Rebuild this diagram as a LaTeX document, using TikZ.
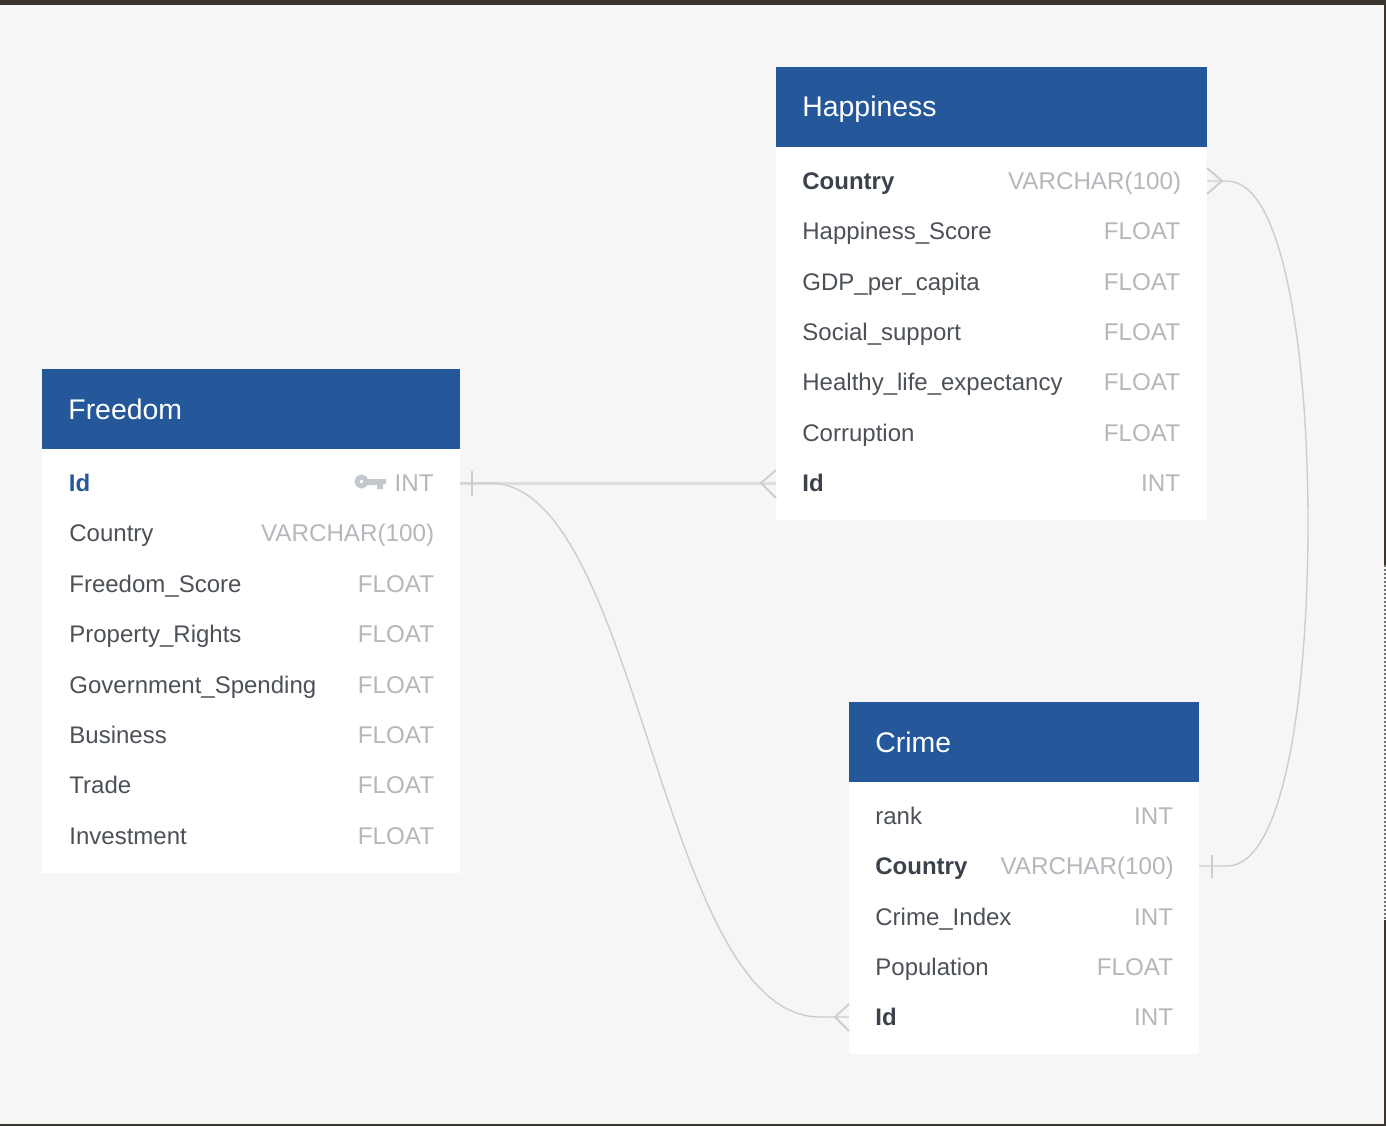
\documentclass[tikz,border=0pt]{standalone}
\usepackage{fontspec}
\setmainfont{Liberation Sans}
\definecolor{headblue}{HTML}{24589A}
\definecolor{pagegray}{HTML}{F6F6F6}
\definecolor{framedark}{HTML}{3A362E}
\definecolor{fieldtext}{HTML}{4C5158}
\definecolor{boldtext}{HTML}{3B424C}
\definecolor{typetext}{HTML}{B4B7BB}
\definecolor{keygray}{HTML}{C3C7CE}
\definecolor{linkgray}{HTML}{CDCDCD}
\definecolor{linklight}{HTML}{DEDEDE}
\tikzset{
  headbox/.style={fill=headblue,inner sep=0pt,minimum height=40pt,anchor=north west},
  bodybox/.style={fill=white,inner sep=0pt,anchor=north west},
  headtext/.style={text=white,anchor=base west,inner sep=0pt,font=\fontsize{14.2}{16}\selectfont},
  fieldname/.style={text=fieldtext,anchor=base west,inner sep=0pt,font=\fontsize{12}{14}\selectfont},
  keyname/.style={fieldname,text=boldtext,font=\fontsize{12}{14}\selectfont\bfseries},
  fieldtype/.style={text=typetext,anchor=base east,inner sep=0pt,font=\fontsize{12.1}{14}\selectfont},
  relation/.style={draw=linkgray,line width=0.7pt},
  foot/.style={draw=linkgray,line width=0.9pt}
}
\begin{document}
\begin{tikzpicture}[x=0.5pt,y=-0.5pt]
\useasboundingbox (0,0) rectangle (1386,1126);
\fill[pagegray] (0,0) rectangle (1386,1126);
% window frame
\fill[framedark] (0,0) rectangle (1386,5);
\fill[framedark] (0,1124) rectangle (1386,1126);
\fill[framedark] (1384,0) rectangle (1386,565);
\draw[framedark!70,line width=1pt,dash pattern=on 1pt off 1pt] (1385,565) -- (1385,920);
\fill[framedark] (1384,920) rectangle (1386,1126);
% Freedom
\node[bodybox,minimum width=209pt,minimum height=212pt] (freedomBody) at (42,449) {};
\node[headbox,minimum width=209pt] (freedomHead) at (42,369) {};
\node[headtext] (freedomTitle) at (68,419) {Freedom};
\foreach \fname/\ftype [count=\i from 0] in {Country/VARCHAR(100),Freedom\_Score/FLOAT,Property\_Rights/FLOAT,Government\_Spending/FLOAT,Business/FLOAT,Trade/FLOAT,Investment/FLOAT}{
  \node[fieldname] (freedomName\i) at (69,541.9+50.4*\i) {\fname};
  \node[fieldtype] (freedomType\i) at (434.5,541.9+50.4*\i) {\ftype};
}
\node[keyname,text=headblue] (freedomIdName) at (68.5,491.8) {Id};
\node[fieldtype] (freedomIdType) at (434,491.8) {INT};
% key icon
\draw[keygray,line width=2.4pt] (361.5,481.5) circle (4.5);
\fill[keygray] (367,479) -- (386,479) -- (386,484) -- (383,484) -- (383,489) -- (377,489) -- (377,485) -- (367,485) -- cycle;
% Happiness
\node[bodybox,minimum width=215.5pt,minimum height=186.5pt] (happinessBody) at (776,147) {};
\node[headbox,minimum width=215.5pt] (happinessHead) at (776,67) {};
\node[headtext] (happinessTitle) at (802,116.6) {Happiness};
\node[keyname] (happinessCountryName) at (802,189.6) {Country};
\node[fieldtype] (happinessCountryType) at (1181.5,189.6) {VARCHAR(100)};
\foreach \fname/\ftype [count=\i from 1] in {Happiness\_Score/FLOAT,GDP\_per\_capita/FLOAT,Social\_support/FLOAT,Healthy\_life\_expectancy/FLOAT,Corruption/FLOAT}{
  \node[fieldname] (happinessName\i) at (802,189.2+50.4*\i) {\fname};
  \node[fieldtype] (happinessType\i) at (1180.5,189.2+50.4*\i) {\ftype};
}
\node[keyname] (happinessIdName) at (802,491.8) {Id};
\node[fieldtype] (happinessIdType) at (1180.5,491.8) {INT};
% Crime
\node[bodybox,minimum width=175pt,minimum height=136pt] (crimeBody) at (849,782) {};
\node[headbox,minimum width=175pt] (crimeHead) at (849,702) {};
\node[headtext] (crimeTitle) at (875,752) {Crime};
\node[fieldname] (crimeRankName) at (875,824.6) {rank};
\node[fieldtype] (crimeRankType) at (1173.5,824.6) {INT};
\node[keyname] (crimeCountryName) at (875,874.8) {Country};
\node[fieldtype] (crimeCountryType) at (1174,874.8) {VARCHAR(100)};
\node[fieldname] (crimeIndexName) at (875,925.4) {Crime\_Index};
\node[fieldtype] (crimeIndexType) at (1173.5,925.4) {INT};
\node[fieldname] (crimePopName) at (875,975.6) {Population};
\node[fieldtype] (crimePopType) at (1173.5,975.6) {FLOAT};
\node[keyname] (crimeIdName) at (875,1025.8) {Id};
\node[fieldtype] (crimeIdType) at (1173.5,1025.8) {INT};
% relations
\coordinate (freedomId) at (460,483);
\coordinate (happinessId) at (776,483);
\coordinate (happinessCountry) at (1207,181);
\coordinate (crimeId) at (849,1017);
\coordinate (crimeCountry) at (1199,866);
\draw[draw=linklight,line width=1.5pt] (freedomId) -- (happinessId);
\draw[relation] (freedomId) -- ++(30,0) .. controls (640,483) and (660,1017) .. (820,1017) -- (crimeId);
\draw[relation] (happinessCountry) -- ++(20,0) .. controls (1285,181) and (1308,360) .. (1308,523) .. controls (1308,690) and (1285,866) .. (1227,866) -- (crimeCountry);
% ends of the relations
\draw[foot] (472,471) -- (472,496);
\draw[foot] (1212,855) -- (1212,878);
\draw[foot] (776,470) -- (761,483) -- (776,498);
\draw[foot] (849,1004) -- (835,1017) -- (849,1031);
\draw[foot] (1207,168) -- (1222,181) -- (1207,194);
\end{tikzpicture}
\end{document}
